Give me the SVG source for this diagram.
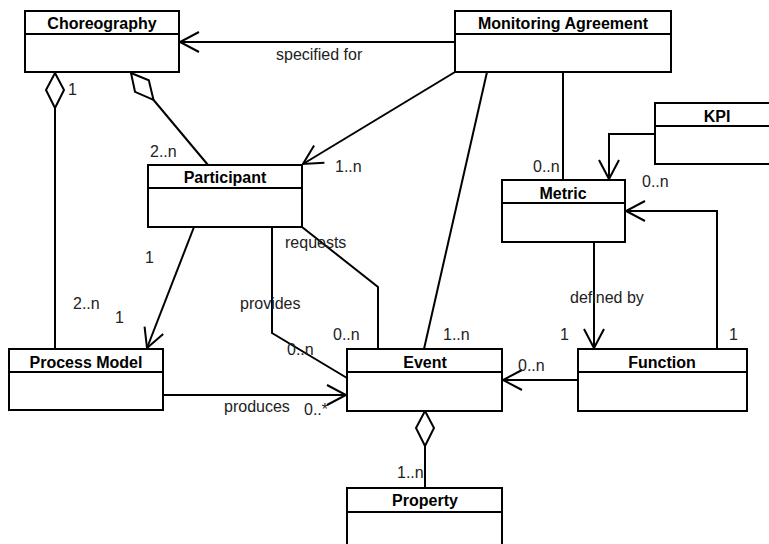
<svg xmlns="http://www.w3.org/2000/svg" width="769" height="544" viewBox="0 0 769 544">
  <style>
    .box { fill: #fff; stroke: #000; stroke-width: 2; }
    .div { stroke: #000; stroke-width: 2; }
    .title { font-family: "Liberation Sans", Arial, sans-serif; font-size: 16px; font-weight: bold; text-anchor: middle; fill: #000; }
    .lbl { font-family: "Liberation Sans", Arial, sans-serif; font-size: 16px; fill: #222; }
    .edge { fill: none; stroke: #000; stroke-width: 2; }
    .nav { marker-end: url(#open); }
    .agg { marker-start: url(#diamond); }
  </style>
  <defs>
    <marker id="open" markerUnits="userSpaceOnUse" markerWidth="24" markerHeight="24" viewBox="-20 -12 22 24" refX="0" refY="0" orient="auto">
      <path d="M-19,-10 L0,0 L-19,10" fill="none" stroke="#000" stroke-width="2"/>
    </marker>
    <marker id="diamond" markerUnits="userSpaceOnUse" markerWidth="40" markerHeight="24" viewBox="-2 -12 40 24" refX="0" refY="0" orient="auto">
      <path d="M0,0 L17,-9 L35,0 L17,9 Z" fill="#fff" stroke="#000" stroke-width="2"/>
    </marker>
  </defs>

  <!-- connectors -->
  <g id="connectors">
    <path class="edge nav" d="M455,42 L180,42"/>
    <path class="edge nav" d="M455,72 L303,164"/>
    <path class="edge" d="M487,72 L424,349"/>
    <path class="edge" d="M563,72 L563,180"/>
    <path class="edge nav" d="M655,134 L609,134 L609,179"/>
    <path class="edge nav" d="M717,349 L717,211 L626,211"/>
    <path class="edge nav" d="M594,242 L594,348"/>
    <path class="edge nav" d="M578,380 L503,380"/>
    <path class="edge agg" d="M55,73 L55,349"/>
    <path class="edge agg" d="M131,73 L208,165"/>
    <path class="edge nav" d="M194,227 L147,348"/>
    <path class="edge" d="M272,227 L272,333 L347,378"/>
    <path class="edge" d="M302,227 L378,287 L378,349"/>
    <path class="edge nav" d="M163,395 L346,395"/>
    <path class="edge agg" d="M425,411 L425,488"/>
  </g>

  <!-- connector labels -->
  <g id="labels">
    <text class="lbl" x="276" y="60">specified for</text>
    <text class="lbl" x="68" y="95">1</text>
    <text class="lbl" x="150" y="157">2..n</text>
    <text class="lbl" x="335" y="172">1..n</text>
    <text class="lbl" x="533" y="172">0..n</text>
    <text class="lbl" x="642" y="187">0..n</text>
    <text class="lbl" x="285" y="248">requests</text>
    <text class="lbl" x="240" y="309">provides</text>
    <text class="lbl" x="145" y="263">1</text>
    <text class="lbl" x="73" y="309">2..n</text>
    <text class="lbl" x="115" y="323">1</text>
    <text class="lbl" x="287" y="355">0..n</text>
    <text class="lbl" x="333" y="340">0..n</text>
    <text class="lbl" x="443" y="340">1..n</text>
    <text class="lbl" x="570" y="303">defined by</text>
    <text class="lbl" x="560" y="340">1</text>
    <text class="lbl" x="729" y="340">1</text>
    <text class="lbl" x="518" y="371">0..n</text>
    <text class="lbl" x="224" y="412">produces</text>
    <text class="lbl" x="304" y="415">0..*</text>
    <text class="lbl" x="397" y="478">1..n</text>
  </g>

  <!-- classes -->
  <g id="choreography">
    <rect class="box" x="25" y="11" width="154" height="61"/>
    <line class="div" x1="25" y1="34" x2="179" y2="34"/>
    <text class="title" x="102" y="29">Choreography</text>
  </g>
  <g id="monitoring-agreement">
    <rect class="box" x="455" y="11" width="216" height="61"/>
    <line class="div" x1="455" y1="34" x2="671" y2="34"/>
    <text class="title" x="563" y="29">Monitoring Agreement</text>
  </g>
  <g id="kpi">
    <rect class="box" x="655" y="103" width="124" height="61"/>
    <line class="div" x1="655" y1="126" x2="779" y2="126"/>
    <text class="title" x="717" y="122">KPI</text>
  </g>
  <g id="participant">
    <rect class="box" x="148" y="165" width="154" height="62"/>
    <line class="div" x1="148" y1="188" x2="302" y2="188"/>
    <text class="title" x="225" y="183">Participant</text>
  </g>
  <g id="metric">
    <rect class="box" x="502" y="180" width="123" height="62"/>
    <line class="div" x1="502" y1="203" x2="625" y2="203"/>
    <text class="title" x="563" y="199">Metric</text>
  </g>
  <g id="process-model">
    <rect class="box" x="9" y="349" width="154" height="61"/>
    <line class="div" x1="9" y1="372" x2="163" y2="372"/>
    <text class="title" x="86" y="368">Process Model</text>
  </g>
  <g id="event">
    <rect class="box" x="347" y="349" width="155" height="62"/>
    <line class="div" x1="347" y1="372" x2="502" y2="372"/>
    <text class="title" x="425" y="368">Event</text>
  </g>
  <g id="function">
    <rect class="box" x="578" y="349" width="169" height="62"/>
    <line class="div" x1="578" y1="372" x2="747" y2="372"/>
    <text class="title" x="662" y="368">Function</text>
  </g>
  <g id="property">
    <rect class="box" x="347" y="488" width="155" height="62"/>
    <line class="div" x1="347" y1="512" x2="502" y2="512"/>
    <text class="title" x="425" y="506">Property</text>
  </g>
</svg>
